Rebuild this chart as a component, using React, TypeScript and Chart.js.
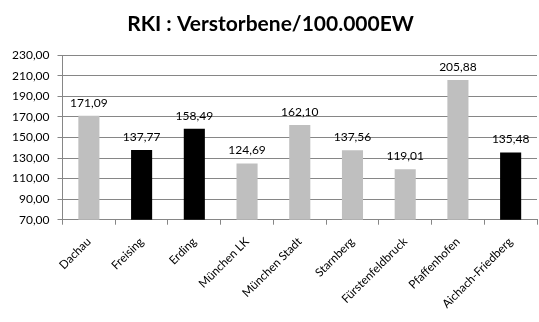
import React, { useEffect, useRef } from "react";
import { Chart, registerables } from "chart.js";

Chart.register(...registerables);

const categories = [
  "Dachau",
  "Freising",
  "Erding",
  "München LK",
  "München Stadt",
  "Starnberg",
  "Fürstenfeldbruck",
  "Pfaffenhofen",
  "Aichach-Friedberg",
];
const values = [171.09, 137.77, 158.49, 124.69, 162.1, 137.56, 119.01, 205.88, 135.48];
const barColors = ["#BFBFBF", "#000000", "#000000", "#BFBFBF", "#BFBFBF", "#BFBFBF", "#BFBFBF", "#BFBFBF", "#000000"];
const yMin = 70;
const yMax = 230;
const yStep = 20;

const fmt = (v: number) => v.toFixed(2).replace(".", ",");

const FONT = "Lato, 'Open Sans', sans-serif";

const dataLabels = {
  id: "dataLabels",
  afterDatasetsDraw(chart: any) {
    const ctx = chart.ctx;
    const meta = chart.getDatasetMeta(0);
    ctx.save();
    ctx.font = `12px ${FONT}`;
    ctx.fillStyle = "#000";
    ctx.textAlign = "center";
    ctx.textBaseline = "bottom";
    meta.data.forEach((bar: any, i: number) => {
      ctx.fillText(fmt(values[i]), bar.x, bar.y - 7);
    });
    ctx.restore();
  },
};

export default function App() {
  const ref = useRef<HTMLCanvasElement>(null);
  useEffect(() => {
    document.body.style.margin = "0";
    const chart = new Chart(ref.current!, {
      type: "bar",
      data: {
        labels: categories,
        datasets: [
          {
            data: values,
            backgroundColor: barColors,
            barPercentage: 0.4,
            categoryPercentage: 1,
          },
        ],
      },
      options: {
        responsive: false,
        animation: false,
        layout: { padding: { left: 4, right: 2, top: 8, bottom: 1 } },
        plugins: {
          legend: { display: false },
          tooltip: { enabled: false },
          title: {
            display: true,
            text: "RKI : Verstorbene/100.000EW",
            color: "#000",
            font: { family: FONT, size: 21, weight: "bold" },
            padding: { top: 4, bottom: 18 },
          },
        },
        scales: {
          x: {
            grid: {
              offset: true,
              drawOnChartArea: false,
              drawTicks: true,
              tickLength: 5,
              color: "#868686",
            },
            border: { color: "#868686" },
            ticks: {
              color: "#000",
              font: { family: FONT, size: 11.7 },
              minRotation: 45,
              maxRotation: 45,
              autoSkip: false,
              padding: 10,
            },
          },
          y: {
            min: yMin,
            max: yMax,
            grid: { color: "#868686", tickLength: 5 },
            border: { color: "#868686" },
            ticks: {
              stepSize: yStep,
              color: "#000",
              font: { family: FONT, size: 12 },
              padding: 8,
              callback: (v: any) => fmt(Number(v)),
            },
          },
        },
      },
      plugins: [dataLabels],
    });
    return () => chart.destroy();
  }, []);
  return <canvas ref={ref} width={539} height={322} />;
}
